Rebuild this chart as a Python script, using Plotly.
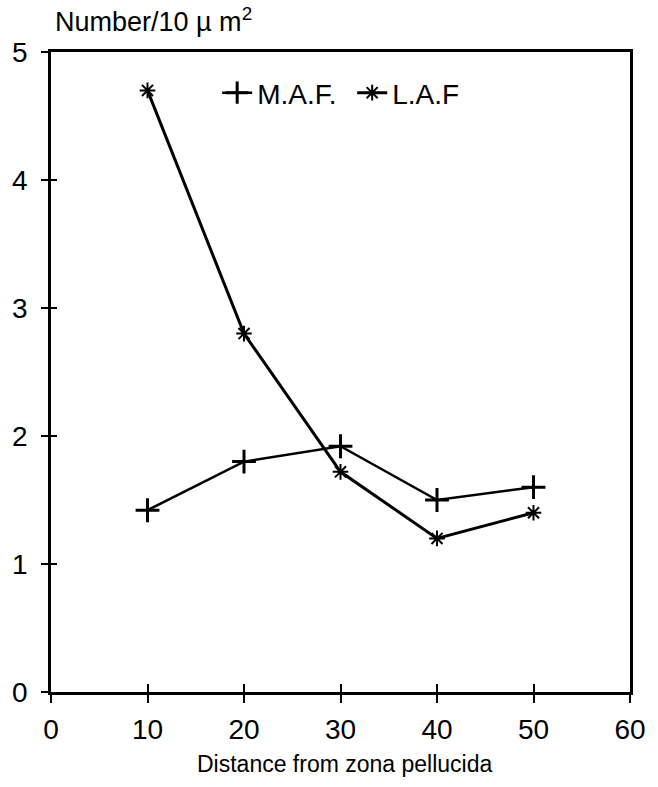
import plotly.graph_objects as go

distance = [10, 20, 30, 40, 50]
maf = [1.42, 1.8, 1.92, 1.5, 1.6]
laf = [4.7, 2.8, 1.72, 1.2, 1.4]
x_ticks = [0, 10, 20, 30, 40, 50, 60]
y_ticks = [0, 1, 2, 3, 4, 5]

FONT = "Liberation Sans, Arial, sans-serif"

fig = go.Figure()
fig.add_trace(go.Scatter(
    x=distance, y=maf, name="M.A.F.", mode="lines+markers",
    line=dict(color="black", width=2.5),
    marker=dict(symbol="cross-thin", size=17, line=dict(color="black", width=3), color="black"),
))
fig.add_trace(go.Scatter(
    x=distance, y=laf, name="L.A.F", mode="lines+markers",
    line=dict(color="black", width=3),
    marker=dict(symbol="asterisk-open", size=13, line=dict(color="black", width=2), color="black"),
))
# invisible trace on overlay axes so the inside tick marks are drawn
fig.add_trace(go.Scatter(x=[0], y=[0], xaxis="x2", yaxis="y2", mode="markers",
                         marker=dict(opacity=0), showlegend=False, hoverinfo="skip"))

fig.update_layout(
    width=658, height=787,
    margin=dict(l=51, r=26, t=52, b=95),
    paper_bgcolor="white", plot_bgcolor="white",
    font=dict(family=FONT, color="black", size=27),
    showlegend=True,
    legend=dict(orientation="h", x=0.287, y=0.936, xanchor="left", yanchor="middle",
                font=dict(size=28), bgcolor="rgba(0,0,0,0)", itemwidth=30,
                entrywidth=90, entrywidthmode="pixels",
                tracegroupgap=0, borderwidth=0),
    xaxis=dict(range=[0, 60], tickvals=x_ticks, ticks="outside", ticklen=8, tickwidth=2,
               tickcolor="black", showline=True, linecolor="black", linewidth=2.5,
               mirror=True, showgrid=False, zeroline=False, ticklabelstandoff=3,
               tickfont=dict(size=28)),
    yaxis=dict(range=[0, 5], tickvals=y_ticks, ticks="outside", ticklen=7, tickwidth=2,
               tickcolor="black", showline=True, linecolor="black", linewidth=2.5,
               mirror=True, showgrid=False, zeroline=False, ticklabelstandoff=8,
               tickfont=dict(size=28)),
    xaxis2=dict(range=[0, 60], tickvals=x_ticks, ticks="inside", ticklen=8, tickwidth=2,
                tickcolor="black", overlaying="x", showticklabels=False, showgrid=False,
                zeroline=False, showline=False),
    yaxis2=dict(range=[0, 5], tickvals=y_ticks, ticks="inside", ticklen=6, tickwidth=2,
                tickcolor="black", overlaying="y", showticklabels=False, showgrid=False,
                zeroline=False, showline=False),
    annotations=[
        dict(text="Number/10 \u00b5 m<sup>2</sup>", x=(53 - 51) / 581, y=(692 - 20) / 640,
             xref="paper", yref="paper", showarrow=False, font=dict(size=27),
             xanchor="left", yanchor="middle"),
        dict(text="Distance from zona pellucida", x=(346 - 51) / 581, y=(692 - 764) / 640,
             xref="paper", yref="paper", showarrow=False,
             font=dict(size=23),
             xanchor="center", yanchor="middle"),
    ],
)

fig.write_html("out.html")
